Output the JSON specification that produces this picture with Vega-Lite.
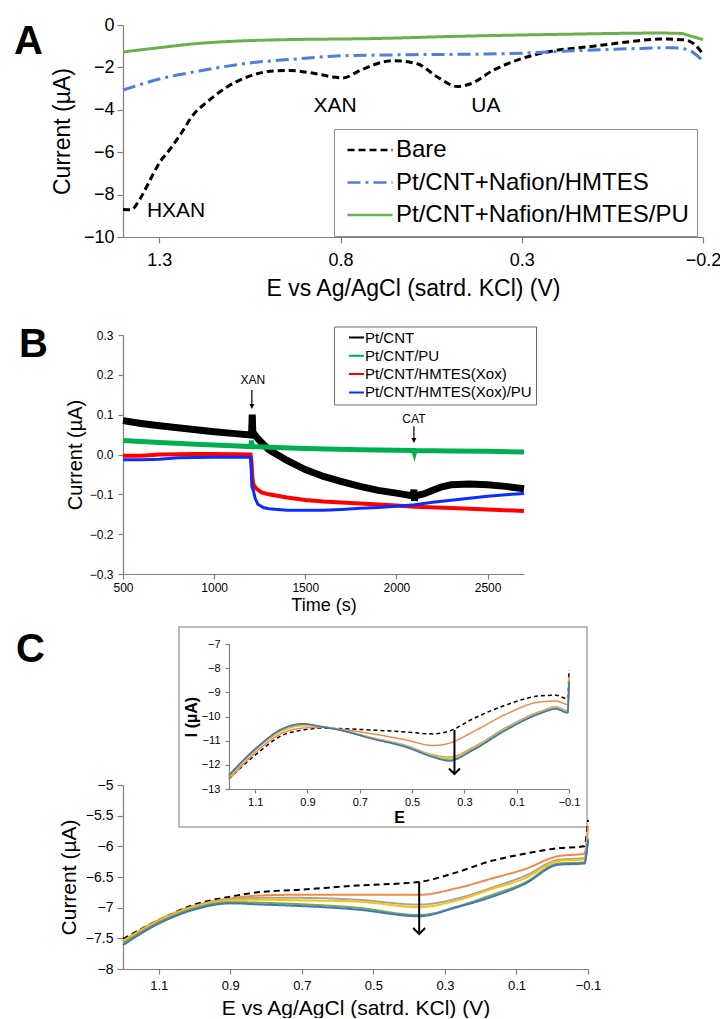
{
"$schema": "https://vega.github.io/schema/vega-lite/v6.json",
"background": "white",
"padding": {"left": 13, "top": 16, "right": 5, "bottom": 0},
"datasets": {
"A": [
{"curve":"Bare","E":1.4,"I":-8.7},{"curve":"Bare","E":1.378,"I":-8.72},{"curve":"Bare","E":1.353,"I":-8.2},{"curve":"Bare","E":1.328,"I":-7.4},{"curve":"Bare","E":1.298,"I":-6.46},{"curve":"Bare","E":1.27,"I":-5.85},{"curve":"Bare","E":1.243,"I":-5.2},{"curve":"Bare","E":1.207,"I":-4.25},{"curve":"Bare","E":1.168,"I":-3.63},{"curve":"Bare","E":1.113,"I":-2.92},{"curve":"Bare","E":1.049,"I":-2.4},{"curve":"Bare","E":0.986,"I":-2.17},{"curve":"Bare","E":0.939,"I":-2.15},{"curve":"Bare","E":0.883,"I":-2.25},{"curve":"Bare","E":0.82,"I":-2.45},{"curve":"Bare","E":0.793,"I":-2.5},{"curve":"Bare","E":0.745,"I":-2.13},{"curve":"Bare","E":0.654,"I":-1.68},{"curve":"Bare","E":0.588,"I":-1.83},{"curve":"Bare","E":0.533,"I":-2.45},{"curve":"Bare","E":0.478,"I":-2.9},{"curve":"Bare","E":0.441,"I":-2.77},{"curve":"Bare","E":0.378,"I":-2.13},{"curve":"Bare","E":0.303,"I":-1.6},{"curve":"Bare","E":0.229,"I":-1.27},{"curve":"Bare","E":0.102,"I":-1.0},{"curve":"Bare","E":0.008,"I":-0.8},{"curve":"Bare","E":-0.083,"I":-0.66},{"curve":"Bare","E":-0.147,"I":-0.7},{"curve":"Bare","E":-0.175,"I":-0.89},{"curve":"Bare","E":-0.2,"I":-1.37},
{"curve":"Pt/CNT+Nafion/HMTES","E":1.4,"I":-3.07},{"curve":"Pt/CNT+Nafion/HMTES","E":1.3,"I":-2.55},{"curve":"Pt/CNT+Nafion/HMTES","E":1.19,"I":-2.17},{"curve":"Pt/CNT+Nafion/HMTES","E":1.05,"I":-1.79},{"curve":"Pt/CNT+Nafion/HMTES","E":0.92,"I":-1.6},{"curve":"Pt/CNT+Nafion/HMTES","E":0.81,"I":-1.46},{"curve":"Pt/CNT+Nafion/HMTES","E":0.6,"I":-1.4},{"curve":"Pt/CNT+Nafion/HMTES","E":0.4,"I":-1.37},{"curve":"Pt/CNT+Nafion/HMTES","E":0.3,"I":-1.33},{"curve":"Pt/CNT+Nafion/HMTES","E":0.2,"I":-1.25},{"curve":"Pt/CNT+Nafion/HMTES","E":0.0,"I":-1.12},{"curve":"Pt/CNT+Nafion/HMTES","E":-0.12,"I":-1.07},{"curve":"Pt/CNT+Nafion/HMTES","E":-0.16,"I":-1.18},{"curve":"Pt/CNT+Nafion/HMTES","E":-0.2,"I":-1.7},
{"curve":"Pt/CNT+Nafion/HMTES/PU","E":1.4,"I":-1.27},{"curve":"Pt/CNT+Nafion/HMTES/PU","E":1.3,"I":-1.07},{"curve":"Pt/CNT+Nafion/HMTES/PU","E":1.2,"I":-0.88},{"curve":"Pt/CNT+Nafion/HMTES/PU","E":1.1,"I":-0.77},{"curve":"Pt/CNT+Nafion/HMTES/PU","E":1.0,"I":-0.71},{"curve":"Pt/CNT+Nafion/HMTES/PU","E":0.8,"I":-0.66},{"curve":"Pt/CNT+Nafion/HMTES/PU","E":0.745,"I":-0.65},{"curve":"Pt/CNT+Nafion/HMTES/PU","E":0.469,"I":-0.53},{"curve":"Pt/CNT+Nafion/HMTES/PU","E":0.193,"I":-0.44},{"curve":"Pt/CNT+Nafion/HMTES/PU","E":-0.083,"I":-0.38},{"curve":"Pt/CNT+Nafion/HMTES/PU","E":-0.14,"I":-0.4},{"curve":"Pt/CNT+Nafion/HMTES/PU","E":-0.16,"I":-0.49},{"curve":"Pt/CNT+Nafion/HMTES/PU","E":-0.2,"I":-0.69}
],
"B": [
{"s":"Pt/CNT","t":500,"I":0.085},{"s":"Pt/CNT","t":600,"I":0.078},{"s":"Pt/CNT","t":700,"I":0.072},{"s":"Pt/CNT","t":800,"I":0.067},{"s":"Pt/CNT","t":900,"I":0.062},{"s":"Pt/CNT","t":1000,"I":0.057},{"s":"Pt/CNT","t":1100,"I":0.053},{"s":"Pt/CNT","t":1200,"I":0.049},{"s":"Pt/CNT","t":1206,"I":0.058},{"s":"Pt/CNT","t":1209,"I":0.1},{"s":"Pt/CNT","t":1212,"I":0.056},{"s":"Pt/CNT","t":1230,"I":0.045},{"s":"Pt/CNT","t":1260,"I":0.03},{"s":"Pt/CNT","t":1300,"I":0.012},{"s":"Pt/CNT","t":1400,"I":-0.015},{"s":"Pt/CNT","t":1500,"I":-0.038},{"s":"Pt/CNT","t":1600,"I":-0.055},{"s":"Pt/CNT","t":1700,"I":-0.068},{"s":"Pt/CNT","t":1800,"I":-0.08},{"s":"Pt/CNT","t":1900,"I":-0.09},{"s":"Pt/CNT","t":2000,"I":-0.097},{"s":"Pt/CNT","t":2092,"I":-0.104},{"s":"Pt/CNT","t":2096,"I":-0.088},{"s":"Pt/CNT","t":2099,"I":-0.116},{"s":"Pt/CNT","t":2103,"I":-0.104},{"s":"Pt/CNT","t":2150,"I":-0.099},{"s":"Pt/CNT","t":2200,"I":-0.09},{"s":"Pt/CNT","t":2250,"I":-0.081},{"s":"Pt/CNT","t":2300,"I":-0.076},{"s":"Pt/CNT","t":2400,"I":-0.074},{"s":"Pt/CNT","t":2500,"I":-0.076},{"s":"Pt/CNT","t":2600,"I":-0.08},{"s":"Pt/CNT","t":2700,"I":-0.086},
{"s":"Pt/CNT/PU","t":500,"I":0.035},{"s":"Pt/CNT/PU","t":700,"I":0.03},{"s":"Pt/CNT/PU","t":900,"I":0.026},{"s":"Pt/CNT/PU","t":1100,"I":0.022},{"s":"Pt/CNT/PU","t":1200,"I":0.02},{"s":"Pt/CNT/PU","t":1205,"I":0.035},{"s":"Pt/CNT/PU","t":1209,"I":0.02},{"s":"Pt/CNT/PU","t":1300,"I":0.018},{"s":"Pt/CNT/PU","t":1500,"I":0.015},{"s":"Pt/CNT/PU","t":1800,"I":0.012},{"s":"Pt/CNT/PU","t":2096,"I":0.01},{"s":"Pt/CNT/PU","t":2099,"I":0.005},{"s":"Pt/CNT/PU","t":2102,"I":0.01},{"s":"Pt/CNT/PU","t":2300,"I":0.009},{"s":"Pt/CNT/PU","t":2500,"I":0.008},{"s":"Pt/CNT/PU","t":2700,"I":0.006},
{"s":"Pt/CNT/HMTES(Xox)","t":500,"I":-0.003},{"s":"Pt/CNT/HMTES(Xox)","t":600,"I":-0.003},{"s":"Pt/CNT/HMTES(Xox)","t":700,"I":0.0},{"s":"Pt/CNT/HMTES(Xox)","t":900,"I":0.001},{"s":"Pt/CNT/HMTES(Xox)","t":1000,"I":0.001},{"s":"Pt/CNT/HMTES(Xox)","t":1200,"I":0.0},{"s":"Pt/CNT/HMTES(Xox)","t":1205,"I":-0.02},{"s":"Pt/CNT/HMTES(Xox)","t":1210,"I":-0.06},{"s":"Pt/CNT/HMTES(Xox)","t":1215,"I":-0.075},{"s":"Pt/CNT/HMTES(Xox)","t":1230,"I":-0.085},{"s":"Pt/CNT/HMTES(Xox)","t":1260,"I":-0.095},{"s":"Pt/CNT/HMTES(Xox)","t":1300,"I":-0.1},{"s":"Pt/CNT/HMTES(Xox)","t":1400,"I":-0.108},{"s":"Pt/CNT/HMTES(Xox)","t":1500,"I":-0.114},{"s":"Pt/CNT/HMTES(Xox)","t":1600,"I":-0.118},{"s":"Pt/CNT/HMTES(Xox)","t":1800,"I":-0.123},{"s":"Pt/CNT/HMTES(Xox)","t":2000,"I":-0.128},{"s":"Pt/CNT/HMTES(Xox)","t":2100,"I":-0.131},{"s":"Pt/CNT/HMTES(Xox)","t":2300,"I":-0.134},{"s":"Pt/CNT/HMTES(Xox)","t":2500,"I":-0.138},{"s":"Pt/CNT/HMTES(Xox)","t":2700,"I":-0.142},
{"s":"Pt/CNT/HMTES(Xox)/PU","t":500,"I":-0.013},{"s":"Pt/CNT/HMTES(Xox)/PU","t":600,"I":-0.013},{"s":"Pt/CNT/HMTES(Xox)/PU","t":700,"I":-0.012},{"s":"Pt/CNT/HMTES(Xox)/PU","t":800,"I":-0.008},{"s":"Pt/CNT/HMTES(Xox)/PU","t":1000,"I":-0.007},{"s":"Pt/CNT/HMTES(Xox)/PU","t":1200,"I":-0.007},{"s":"Pt/CNT/HMTES(Xox)/PU","t":1203,"I":-0.03},{"s":"Pt/CNT/HMTES(Xox)/PU","t":1207,"I":-0.08},{"s":"Pt/CNT/HMTES(Xox)/PU","t":1215,"I":-0.09},{"s":"Pt/CNT/HMTES(Xox)/PU","t":1225,"I":-0.11},{"s":"Pt/CNT/HMTES(Xox)/PU","t":1240,"I":-0.125},{"s":"Pt/CNT/HMTES(Xox)/PU","t":1270,"I":-0.133},{"s":"Pt/CNT/HMTES(Xox)/PU","t":1300,"I":-0.136},{"s":"Pt/CNT/HMTES(Xox)/PU","t":1400,"I":-0.14},{"s":"Pt/CNT/HMTES(Xox)/PU","t":1500,"I":-0.14},{"s":"Pt/CNT/HMTES(Xox)/PU","t":1600,"I":-0.14},{"s":"Pt/CNT/HMTES(Xox)/PU","t":1700,"I":-0.138},{"s":"Pt/CNT/HMTES(Xox)/PU","t":1800,"I":-0.135},{"s":"Pt/CNT/HMTES(Xox)/PU","t":1900,"I":-0.133},{"s":"Pt/CNT/HMTES(Xox)/PU","t":2000,"I":-0.13},{"s":"Pt/CNT/HMTES(Xox)/PU","t":2100,"I":-0.126},{"s":"Pt/CNT/HMTES(Xox)/PU","t":2200,"I":-0.12},{"s":"Pt/CNT/HMTES(Xox)/PU","t":2300,"I":-0.115},{"s":"Pt/CNT/HMTES(Xox)/PU","t":2400,"I":-0.11},{"s":"Pt/CNT/HMTES(Xox)/PU","t":2500,"I":-0.105},{"s":"Pt/CNT/HMTES(Xox)/PU","t":2600,"I":-0.101},{"s":"Pt/CNT/HMTES(Xox)/PU","t":2700,"I":-0.098}
],
"Cin": [
{"c":"k","E":1.2,"I":-12.58},{"c":"k","E":1.1,"I":-11.6},{"c":"k","E":0.995,"I":-10.77},{"c":"k","E":0.918,"I":-10.56},{"c":"k","E":0.842,"I":-10.48},{"c":"k","E":0.778,"I":-10.5},{"c":"k","E":0.65,"I":-10.56},{"c":"k","E":0.523,"I":-10.64},{"c":"k","E":0.421,"I":-10.72},{"c":"k","E":0.357,"I":-10.6},{"c":"k","E":0.268,"I":-10.1},{"c":"k","E":0.14,"I":-9.52},{"c":"k","E":0.013,"I":-9.15},{"c":"k","E":-0.05,"I":-9.12},{"c":"k","E":-0.095,"I":-9.27},{"c":"k","E":-0.1,"I":-8.08},
{"c":"o","E":1.2,"I":-12.6},{"c":"o","E":1.1,"I":-11.5},{"c":"o","E":0.995,"I":-10.68},{"c":"o","E":0.918,"I":-10.48},{"c":"o","E":0.842,"I":-10.45},{"c":"o","E":0.778,"I":-10.52},{"c":"o","E":0.65,"I":-10.72},{"c":"o","E":0.523,"I":-10.97},{"c":"o","E":0.421,"I":-11.2},{"c":"o","E":0.357,"I":-11.1},{"c":"o","E":0.268,"I":-10.64},{"c":"o","E":0.14,"I":-9.9},{"c":"o","E":0.013,"I":-9.4},{"c":"o","E":-0.05,"I":-9.36},{"c":"o","E":-0.095,"I":-9.5},{"c":"o","E":-0.1,"I":-8.36},
{"c":"g","E":1.2,"I":-12.5},{"c":"g","E":1.1,"I":-11.4},{"c":"g","E":0.995,"I":-10.58},{"c":"g","E":0.918,"I":-10.38},{"c":"g","E":0.842,"I":-10.42},{"c":"g","E":0.778,"I":-10.54},{"c":"g","E":0.65,"I":-10.88},{"c":"g","E":0.523,"I":-11.2},{"c":"g","E":0.421,"I":-11.58},{"c":"g","E":0.357,"I":-11.68},{"c":"g","E":0.268,"I":-11.28},{"c":"g","E":0.14,"I":-10.45},{"c":"g","E":0.013,"I":-9.8},{"c":"g","E":-0.05,"I":-9.6},{"c":"g","E":-0.095,"I":-9.76},{"c":"g","E":-0.1,"I":-8.5},
{"c":"y","E":1.2,"I":-12.5},{"c":"y","E":1.1,"I":-11.38},{"c":"y","E":0.995,"I":-10.56},{"c":"y","E":0.918,"I":-10.36},{"c":"y","E":0.842,"I":-10.42},{"c":"y","E":0.778,"I":-10.55},{"c":"y","E":0.65,"I":-10.9},{"c":"y","E":0.523,"I":-11.23},{"c":"y","E":0.421,"I":-11.62},{"c":"y","E":0.357,"I":-11.73},{"c":"y","E":0.268,"I":-11.33},{"c":"y","E":0.14,"I":-10.5},{"c":"y","E":0.013,"I":-9.84},{"c":"y","E":-0.05,"I":-9.64},{"c":"y","E":-0.095,"I":-9.8},{"c":"y","E":-0.1,"I":-8.52},
{"c":"gr","E":1.2,"I":-12.45},{"c":"gr","E":1.1,"I":-11.36},{"c":"gr","E":0.995,"I":-10.52},{"c":"gr","E":0.918,"I":-10.32},{"c":"gr","E":0.842,"I":-10.43},{"c":"gr","E":0.778,"I":-10.56},{"c":"gr","E":0.65,"I":-10.92},{"c":"gr","E":0.523,"I":-11.25},{"c":"gr","E":0.421,"I":-11.65},{"c":"gr","E":0.357,"I":-11.8},{"c":"gr","E":0.268,"I":-11.37},{"c":"gr","E":0.14,"I":-10.53},{"c":"gr","E":0.013,"I":-9.87},{"c":"gr","E":-0.05,"I":-9.67},{"c":"gr","E":-0.095,"I":-9.83},{"c":"gr","E":-0.1,"I":-8.55},
{"c":"b","E":1.2,"I":-12.42},{"c":"b","E":1.1,"I":-11.34},{"c":"b","E":0.995,"I":-10.5},{"c":"b","E":0.918,"I":-10.3},{"c":"b","E":0.842,"I":-10.43},{"c":"b","E":0.778,"I":-10.56},{"c":"b","E":0.65,"I":-10.93},{"c":"b","E":0.523,"I":-11.27},{"c":"b","E":0.421,"I":-11.68},{"c":"b","E":0.357,"I":-11.84},{"c":"b","E":0.268,"I":-11.4},{"c":"b","E":0.14,"I":-10.56},{"c":"b","E":0.013,"I":-9.89},{"c":"b","E":-0.05,"I":-9.69},{"c":"b","E":-0.095,"I":-9.85},{"c":"b","E":-0.1,"I":-8.57}
],
"Cm": [
{"c":"k","E":1.2,"I":-7.51},{"c":"k","E":1.1,"I":-7.2},{"c":"k","E":1.0,"I":-6.95},{"c":"k","E":0.9,"I":-6.82},{"c":"k","E":0.808,"I":-6.74},{"c":"k","E":0.716,"I":-6.71},{"c":"k","E":0.546,"I":-6.64},{"c":"k","E":0.372,"I":-6.58},{"c":"k","E":0.265,"I":-6.42},{"c":"k","E":0.172,"I":-6.24},{"c":"k","E":0.076,"I":-6.12},{"c":"k","E":-0.017,"I":-6.03},{"c":"k","E":-0.09,"I":-6.0},{"c":"k","E":-0.1,"I":-5.57},
{"c":"o","E":1.2,"I":-7.54},{"c":"o","E":1.1,"I":-7.2},{"c":"o","E":1.0,"I":-6.97},{"c":"o","E":0.9,"I":-6.85},{"c":"o","E":0.808,"I":-6.8},{"c":"o","E":0.716,"I":-6.79},{"c":"o","E":0.546,"I":-6.79},{"c":"o","E":0.372,"I":-6.79},{"c":"o","E":0.265,"I":-6.68},{"c":"o","E":0.172,"I":-6.53},{"c":"o","E":0.076,"I":-6.37},{"c":"o","E":-0.017,"I":-6.16},{"c":"o","E":-0.09,"I":-6.12},{"c":"o","E":-0.1,"I":-5.68},
{"c":"g","E":1.2,"I":-7.55},{"c":"g","E":1.1,"I":-7.22},{"c":"g","E":1.0,"I":-6.98},{"c":"g","E":0.9,"I":-6.86},{"c":"g","E":0.808,"I":-6.84},{"c":"g","E":0.716,"I":-6.84},{"c":"g","E":0.546,"I":-6.87},{"c":"g","E":0.372,"I":-6.95},{"c":"g","E":0.265,"I":-6.85},{"c":"g","E":0.172,"I":-6.68},{"c":"g","E":0.076,"I":-6.48},{"c":"g","E":-0.017,"I":-6.22},{"c":"g","E":-0.09,"I":-6.19},{"c":"g","E":-0.1,"I":-5.85},
{"c":"y","E":1.2,"I":-7.55},{"c":"y","E":1.1,"I":-7.22},{"c":"y","E":1.0,"I":-6.99},{"c":"y","E":0.9,"I":-6.88},{"c":"y","E":0.808,"I":-6.87},{"c":"y","E":0.716,"I":-6.88},{"c":"y","E":0.546,"I":-6.9},{"c":"y","E":0.372,"I":-6.99},{"c":"y","E":0.265,"I":-6.88},{"c":"y","E":0.172,"I":-6.7},{"c":"y","E":0.076,"I":-6.52},{"c":"y","E":-0.017,"I":-6.24},{"c":"y","E":-0.09,"I":-6.21},{"c":"y","E":-0.1,"I":-5.87},
{"c":"gr","E":1.2,"I":-7.58},{"c":"gr","E":1.1,"I":-7.24},{"c":"gr","E":1.0,"I":-7.01},{"c":"gr","E":0.9,"I":-6.91},{"c":"gr","E":0.808,"I":-6.92},{"c":"gr","E":0.716,"I":-6.94},{"c":"gr","E":0.546,"I":-7.0},{"c":"gr","E":0.372,"I":-7.12},{"c":"gr","E":0.265,"I":-6.98},{"c":"gr","E":0.172,"I":-6.8},{"c":"gr","E":0.076,"I":-6.59},{"c":"gr","E":-0.017,"I":-6.28},{"c":"gr","E":-0.09,"I":-6.26},{"c":"gr","E":-0.1,"I":-5.88},
{"c":"b","E":1.2,"I":-7.61},{"c":"b","E":1.1,"I":-7.26},{"c":"b","E":1.0,"I":-7.03},{"c":"b","E":0.9,"I":-6.93},{"c":"b","E":0.808,"I":-6.95},{"c":"b","E":0.716,"I":-6.97},{"c":"b","E":0.546,"I":-7.03},{"c":"b","E":0.372,"I":-7.14},{"c":"b","E":0.265,"I":-6.99},{"c":"b","E":0.172,"I":-6.83},{"c":"b","E":0.076,"I":-6.61},{"c":"b","E":-0.017,"I":-6.3},{"c":"b","E":-0.09,"I":-6.28},{"c":"b","E":-0.1,"I":-5.9}
]
},
"bounds": "flush",
"spacing": 619,
"resolve": {"scale": {"color": "independent", "strokeDash": "independent", "strokeWidth": "independent", "x": "independent", "y": "independent"}, "legend": {"color": "independent", "strokeDash": "independent"}},
"vconcat": [
{
"spacing": 24,
"resolve": {"scale": {"color": "independent", "strokeDash": "independent", "strokeWidth": "independent", "x": "independent", "y": "independent"}, "legend": {"color": "independent", "strokeDash": "independent"}},
"vconcat": [
{
"width": 580, "height": 212,
"layer": [
{"data": {"name": "A"},
 "mark": {"type": "line", "interpolate": "monotone", "strokeWidth": 3},
 "encoding": {
  "x": {"field": "E", "type": "quantitative", "scale": {"domain": [-0.2, 1.4], "reverse": true, "nice": false, "zero": false},
        "axis": {"values": [1.3, 0.8, 0.3, -0.2], "tickCount": 50, "format": ".1f", "title": "E vs Ag/AgCl (satrd. KCl) (V)", "tickSize": 6, "labelPadding": 8, "labelFontSize": 18, "titleFontSize": 23, "titlePadding": 8}},
  "y": {"field": "I", "type": "quantitative", "scale": {"domain": [-10, 0], "nice": false, "zero": false},
        "axis": {"values": [0, -2, -4, -6, -8, -10], "tickCount": 50, "format": "d", "title": "Current (µA)", "tickSize": 6, "labelPadding": 3, "labelFontSize": 18, "titleFontSize": 23, "titlePadding": 9}},
  "color": {"field": "curve", "type": "nominal", "scale": {"domain": ["Bare", "Pt/CNT+Nafion/HMTES", "Pt/CNT+Nafion/HMTES/PU"], "range": ["#000000", "#4f7fd6", "#6ab04c"]},
            "legend": {"title": null, "orient": "none", "legendX": 211, "legendY": 104, "symbolType": "stroke", "symbolSize": 2025, "symbolStrokeWidth": 2.5, "labelFontSize": 24, "clipHeight": 26, "rowPadding": 6.5, "padding": 8, "symbolOffset": 4, "labelOffset": 2, "strokeColor": "#8c8c8c", "fillColor": "white", "labelLimit": 500}},
  "strokeDash": {"field": "curve", "type": "nominal", "scale": {"domain": ["Bare", "Pt/CNT+Nafion/HMTES", "Pt/CNT+Nafion/HMTES/PU"], "range": [[7, 4], [13, 5, 3, 5], [1, 0]]},
            "legend": {"title": null, "orient": "none", "legendX": 211, "legendY": 104, "symbolType": "stroke", "symbolSize": 2025, "symbolStrokeWidth": 2.5, "labelFontSize": 24, "clipHeight": 26, "rowPadding": 6.5, "padding": 8, "symbolOffset": 4, "labelOffset": 2, "strokeColor": "#8c8c8c", "fillColor": "white", "labelLimit": 500}}
 }},
{"data": {"values": [{"t": "HXAN"}]}, "mark": {"type": "text", "fontSize": 21, "align": "left", "baseline": "middle"},
 "encoding": {"x": {"datum": 1.334, "type": "quantitative"}, "y": {"datum": -8.77, "type": "quantitative"}, "text": {"field": "t"}}},
{"data": {"values": [{"t": "XAN"}]}, "mark": {"type": "text", "fontSize": 21, "align": "center", "baseline": "middle"},
 "encoding": {"x": {"datum": 0.815, "type": "quantitative"}, "y": {"datum": -3.84, "type": "quantitative"}, "text": {"field": "t"}}},
{"data": {"values": [{"t": "UA"}]}, "mark": {"type": "text", "fontSize": 21, "align": "center", "baseline": "middle"},
 "encoding": {"x": {"datum": 0.399, "type": "quantitative"}, "y": {"datum": -3.8, "type": "quantitative"}, "text": {"field": "t"}}},
{"data": {"values": [{"t": "A"}]}, "mark": {"type": "text", "fontSize": 40, "fontWeight": "bold", "align": "left", "baseline": "middle"},
 "encoding": {"x": {"datum": 1.7007, "type": "quantitative"}, "y": {"datum": -0.802, "type": "quantitative"}, "text": {"field": "t"}}}
]
},
{
"width": 401, "height": 239,
"layer": [
{"data": {"name": "B"}, "transform": [{"filter": "datum.s === 'Pt/CNT'"}],
 "mark": {"type": "line", "strokeWidth": 7},
 "encoding": {
  "x": {"field": "t", "type": "quantitative", "scale": {"domain": [500, 2700], "nice": false, "zero": false},
        "axis": {"values": [500, 1000, 1500, 2000, 2500], "tickCount": 50, "format": "d", "title": "Time (s)", "tickSize": 5, "labelPadding": 3, "labelFontSize": 12, "titleFontSize": 18, "titlePadding": 3}},
  "y": {"field": "I", "type": "quantitative", "scale": {"domain": [-0.3, 0.3], "nice": false, "zero": false},
        "axis": {"values": [-0.3, -0.2, -0.1, 0, 0.1, 0.2, 0.3], "tickCount": 50, "format": ".1f", "title": "Current (µA)", "tickSize": 5, "labelPadding": 5, "labelFontSize": 12, "titleFontSize": 20, "titlePadding": 4}},
  "color": {"field": "s", "type": "nominal", "scale": {"domain": ["Pt/CNT", "Pt/CNT/PU", "Pt/CNT/HMTES(Xox)", "Pt/CNT/HMTES(Xox)/PU"], "range": ["#000000", "#00b050", "#ff0000", "#0a2cff"]},
            "legend": {"title": null, "orient": "none", "legendX": 211, "legendY": -8.5, "symbolType": "stroke", "symbolSize": 225, "symbolStrokeWidth": 2, "labelFontSize": 15, "clipHeight": 14, "rowPadding": 3.3, "padding": 4, "symbolOffset": 10, "labelOffset": 0, "strokeColor": "#6e6e6e", "fillColor": "white", "labelLimit": 500}}
 }},
{"data": {"name": "B"}, "transform": [{"filter": "datum.s === 'Pt/CNT/PU'"}],
 "mark": {"type": "line", "strokeWidth": 5},
 "encoding": {"x": {"field": "t", "type": "quantitative"}, "y": {"field": "I", "type": "quantitative"}, "color": {"field": "s", "type": "nominal"}}},
{"data": {"name": "B"}, "transform": [{"filter": "datum.s === 'Pt/CNT/HMTES(Xox)'"}],
 "mark": {"type": "line", "strokeWidth": 4},
 "encoding": {"x": {"field": "t", "type": "quantitative"}, "y": {"field": "I", "type": "quantitative"}, "color": {"field": "s", "type": "nominal"}}},
{"data": {"name": "B"}, "transform": [{"filter": "datum.s === 'Pt/CNT/HMTES(Xox)/PU'"}],
 "mark": {"type": "line", "strokeWidth": 3},
 "encoding": {"x": {"field": "t", "type": "quantitative"}, "y": {"field": "I", "type": "quantitative"}, "color": {"field": "s", "type": "nominal"}}},
{"data": {"values": [{"t": "XAN"}]}, "mark": {"type": "text", "fontSize": 12, "align": "center", "baseline": "middle"},
 "encoding": {"x": {"datum": 1213, "type": "quantitative"}, "y": {"datum": 0.187, "type": "quantitative"}, "text": {"field": "t"}}},
{"data": {"values": [{"t": "XAN"}]}, "mark": {"type": "rule", "color": "black", "strokeWidth": 1.2},
 "encoding": {"x": {"datum": 1207, "type": "quantitative"}, "y": {"datum": 0.162, "type": "quantitative"}, "y2": {"datum": 0.12}}},
{"data": {"values": [{"t": "XAN"}]}, "mark": {"type": "point", "shape": "M-1,-2L0,0L1,-2Z", "filled": true, "color": "black", "size": 25, "opacity": 1},
 "encoding": {"x": {"datum": 1207, "type": "quantitative"}, "y": {"datum": 0.114, "type": "quantitative"}}},
{"data": {"values": [{"t": "CAT"}]}, "mark": {"type": "text", "fontSize": 12, "align": "center", "baseline": "middle"},
 "encoding": {"x": {"datum": 2096, "type": "quantitative"}, "y": {"datum": 0.089, "type": "quantitative"}, "text": {"field": "t"}}},
{"data": {"values": [{"t": "CAT"}]}, "mark": {"type": "rule", "color": "black", "strokeWidth": 1.2},
 "encoding": {"x": {"datum": 2096, "type": "quantitative"}, "y": {"datum": 0.071, "type": "quantitative"}, "y2": {"datum": 0.035}}},
{"data": {"values": [{"t": "CAT"}]}, "mark": {"type": "point", "shape": "M-1,-2L0,0L1,-2Z", "filled": true, "color": "black", "size": 25, "opacity": 1},
 "encoding": {"x": {"datum": 2096, "type": "quantitative"}, "y": {"datum": 0.029, "type": "quantitative"}}},
{"data": {"values": [{"t": "B"}]}, "mark": {"type": "text", "fontSize": 40, "fontWeight": "bold", "align": "left", "baseline": "middle"},
 "encoding": {"x": {"datum": -70.6, "type": "quantitative"}, "y": {"datum": 0.275, "type": "quantitative"}, "text": {"field": "t"}}}
]
}
]
},
{
"bounds": "flush",
"spacing": 141,
"resolve": {"scale": {"color": "independent", "strokeDash": "independent", "strokeWidth": "independent", "x": "independent", "y": "independent"}},
"vconcat": [
{
"spacing": 0,
"resolve": {"scale": {"color": "independent", "strokeDash": "independent", "strokeWidth": "independent", "x": "independent", "y": "independent"}},
"hconcat": [
{"width": 55, "height": 1, "data": {"values": []}, "mark": "point"},
{
"width": 340, "height": 145,
"layer": [
{"data": {"values": [{"t": "box"}]}, "mark": {"type": "rect", "fill": "white", "stroke": "#a6a6a6", "strokeWidth": 1.5},
 "encoding": {"x": {"datum": 1.391, "type": "quantitative"}, "x2": {"datum": -0.169}, "y": {"datum": -6.3, "type": "quantitative"}, "y2": {"datum": -14.57}}},
{"data": {"name": "Cin"},
 "mark": {"type": "line", "interpolate": "monotone"},
 "encoding": {
  "x": {"field": "E", "type": "quantitative", "scale": {"domain": [-0.1, 1.2], "reverse": true, "nice": false, "zero": false},
        "axis": {"values": [1.1, 0.9, 0.7, 0.5, 0.3, 0.1, -0.1], "tickCount": 50, "format": ".1f", "title": "E", "titleFontWeight": "bold", "titleFontSize": 16, "tickSize": 4, "labelPadding": 3, "labelFontSize": 11, "titlePadding": 2, "zindex": 1}},
  "y": {"field": "I", "type": "quantitative", "scale": {"domain": [-13, -7], "nice": false, "zero": false},
        "axis": {"values": [-7, -8, -9, -10, -11, -12, -13], "tickCount": 50, "format": "d", "title": "I (µA)", "titleFontWeight": "bold", "titleFontSize": 16, "tickSize": 4, "labelPadding": 5, "labelFontSize": 11, "titlePadding": 2, "zindex": 1}},
  "color": {"field": "c", "type": "nominal", "scale": {"domain": ["k", "o", "g", "y", "gr", "b"], "range": ["#000000", "#f08a4b", "#a5a5a5", "#ffc000", "#70ad47", "#4472c4"]}, "legend": null},
  "strokeDash": {"field": "c", "type": "nominal", "scale": {"domain": ["k", "o", "g", "y", "gr", "b"], "range": [[4, 3], [1, 0], [1, 0], [1, 0], [1, 0], [1, 0]]}, "legend": null},
  "strokeWidth": {"field": "c", "type": "nominal", "scale": {"domain": ["k", "o", "g", "y", "gr", "b"], "range": [1.5, 1.5, 3, 2.5, 2.5, 3.5]}, "legend": null}
 }},
{"data": {"values": [{"t": "arrow"}]}, "mark": {"type": "rule", "color": "black", "strokeWidth": 2},
 "encoding": {"x": {"datum": 0.338, "type": "quantitative"}, "y": {"datum": -10.56, "type": "quantitative"}, "y2": {"datum": -12.38}}},
{"data": {"values": [{"t": "arrow"}]}, "mark": {"type": "point", "shape": "M-1,-1L0,0L1,-1", "filled": false, "color": "black", "strokeWidth": 2, "size": 121, "opacity": 1},
 "encoding": {"x": {"datum": 0.338, "type": "quantitative"}, "y": {"datum": -12.38, "type": "quantitative"}}}
]
}
]
},
{
"width": 465, "height": 184,
"layer": [
{"data": {"name": "Cm"},
 "mark": {"type": "line", "interpolate": "monotone"},
 "encoding": {
  "x": {"field": "E", "type": "quantitative", "scale": {"domain": [-0.1, 1.2], "reverse": true, "nice": false, "zero": false},
        "axis": {"values": [1.1, 0.9, 0.7, 0.5, 0.3, 0.1, -0.1], "tickCount": 50, "format": ".1f", "title": "E vs Ag/AgCl (satrd. KCl) (V)", "tickSize": 5, "labelPadding": 5, "labelFontSize": 13, "titleFontSize": 21, "titlePadding": 5}},
  "y": {"field": "I", "type": "quantitative", "scale": {"domain": [-8, -5], "nice": false, "zero": false},
        "axis": {"values": [-5, -5.5, -6, -6.5, -7, -7.5, -8], "tickCount": 50, "format": "~g", "title": "Current (µA)", "tickSize": 6, "labelPadding": 4, "labelFontSize": 14, "titleFontSize": 21, "titlePadding": 6}},
  "color": {"field": "c", "type": "nominal", "scale": {"domain": ["k", "o", "g", "y", "gr", "b"], "range": ["#000000", "#f08a4b", "#a5a5a5", "#ffc000", "#70ad47", "#4472c4"]}, "legend": null},
  "strokeDash": {"field": "c", "type": "nominal", "scale": {"domain": ["k", "o", "g", "y", "gr", "b"], "range": [[6, 4], [1, 0], [1, 0], [1, 0], [1, 0], [1, 0]]}, "legend": null},
  "strokeWidth": {"field": "c", "type": "nominal", "scale": {"domain": ["k", "o", "g", "y", "gr", "b"], "range": [2, 2, 2.5, 2.5, 2.5, 3]}, "legend": null}
 }},
{"data": {"values": [{"t": "arrow"}]}, "mark": {"type": "rule", "color": "black", "strokeWidth": 2},
 "encoding": {"x": {"datum": 0.372, "type": "quantitative"}, "y": {"datum": -6.58, "type": "quantitative"}, "y2": {"datum": -7.43}}},
{"data": {"values": [{"t": "arrow"}]}, "mark": {"type": "point", "shape": "M-1,-1L0,0L1,-1", "filled": false, "color": "black", "strokeWidth": 2, "size": 144, "opacity": 1},
 "encoding": {"x": {"datum": 0.372, "type": "quantitative"}, "y": {"datum": -7.43, "type": "quantitative"}}},
{"data": {"values": [{"t": "C"}]}, "mark": {"type": "text", "fontSize": 40, "fontWeight": "bold", "align": "left", "baseline": "middle"},
 "encoding": {"x": {"datum": 1.499, "type": "quantitative"}, "y": {"datum": -2.799, "type": "quantitative"}, "text": {"field": "t"}}}
]
}
]
}
],
"config": {
 "font": "Liberation Sans",
 "view": {"stroke": null},
 "axis": {"grid": false, "domainColor": "#7f7f7f", "tickColor": "#7f7f7f", "labelColor": "#000000", "titleColor": "#000000", "titleFontWeight": "normal", "labelFont": "Liberation Sans", "titleFont": "Liberation Sans", "labelFlush": false, "labelOverlap": false, "domainWidth": 1.2, "tickWidth": 1.2},
 "legend": {"labelFont": "Liberation Sans", "labelColor": "#000000"},
 "text": {"font": "Liberation Sans", "color": "#000000"}
}
}
